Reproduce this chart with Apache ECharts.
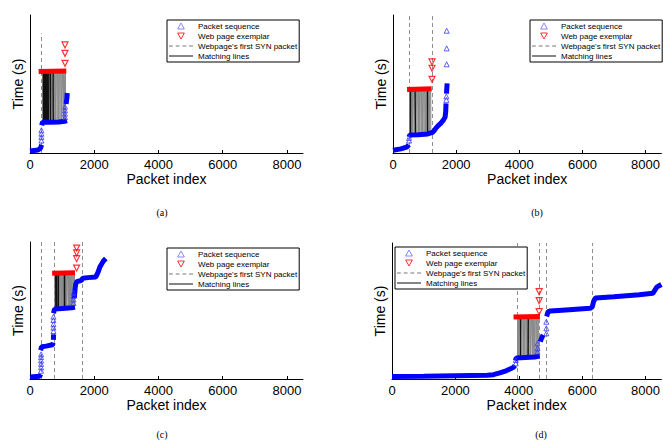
<!DOCTYPE html>
<html>
<head>
<meta charset="utf-8">
<script src="https://cdn.jsdelivr.net/npm/echarts@6/dist/echarts.min.js"></script>
<style>
  html, body { margin: 0; padding: 0; background: #fff; }
  #chart { width: 663px; height: 441px; }
</style>
</head>
<body>
<div id="chart"></div>
<script>
// ---- shared labels ----
const xTicks = [0, 2000, 4000, 6000, 8000];
const SEQ = 'Packet sequence';
const EX = 'Web page exemplar';
const SYN = "Webpage's first SYN packet";
const MATCH = 'Matching lines';
const captions = ['(a)', '(b)', '(c)', '(d)'];

// ---- (a) ----
const seqRunsA = [
  [[0, 0.15], [250, 0.22], [330, 0.35], [360, 0.6]],
  [[365, 2.0], [390, 2.25], [600, 2.22], [900, 2.25], [1080, 2.3], [1150, 2.35]],
  [[1125, 3.55], [1150, 4.0], [1160, 4.35]]
];
const seqSparseA = [[355, 0.9], [355, 1.15], [355, 1.4], [355, 1.65], [1090, 2.6], [1090, 2.85], [1090, 3.1], [1090, 3.35]];
const exRowA = [[270, 5.9], [1130, 5.95]];
const exSparseA = [[1090, 6.5], [1090, 7.22], [1090, 7.83]];
const synA = [364];
const synTopA = 8.67;
const matchTimesA = [5.9, 2.25];
const matchA = [[390,400],[410,405],[430,445],[452,440],[470,482],[495,488],[515,530],[540,528],[560,575],[585,572],[605,620],[630,618],[650,668],[675,660],[695,712],[720,705],[740,758],[765,750],[785,800],[810,795],[830,848],[855,840],[875,892],[900,885],[920,938],[945,930],[965,982],[990,975],[1010,1028],[1035,1020],[1055,1070],[1080,1066],[1100,1105]];
const matchDarkA = [[400,402],[425,428],[448,452],[470,466],[500,498],[540,545],[585,580],[640,636],[720,725]];

// ---- (b) ----
const seqRunsB = [
  [[0, 0.2], [250, 0.3], [450, 0.45], [500, 0.6]],
  [[505, 1.15], [530, 1.3], [800, 1.32], [1100, 1.38], [1250, 1.5], [1300, 1.6], [1360, 1.8], [1440, 2.0], [1520, 2.17], [1600, 2.4], [1650, 2.6], [1670, 3.0], [1680, 3.6]],
  [[1695, 4.3], [1705, 4.7], [1715, 5.05]]
];
const seqSparseB = [[510, 0.9], [510, 1.1], [1690, 3.85], [1690, 4.1], [1700, 6.43], [1700, 7.58], [1700, 8.86]];
const exRowB = [[445, 4.6], [1225, 4.65]];
const exSparseB = [[1236, 5.34], [1236, 6.14], [1236, 6.6]];
const synB = [508, 1236];
const synTopB = 10;
const matchTimesB = [4.6, 1.35];
const matchB = [[525,530],[545,540],[565,580],[590,575],[610,625],[635,620],[655,672],[680,665],[700,718],[725,710],[745,762],[770,755],[790,808],[815,800],[835,852],[860,845],[880,898],[905,890],[925,942],[950,935],[970,988],[995,980],[1015,1032],[1040,1025],[1060,1078],[1085,1070],[1105,1122],[1130,1115],[1150,1168],[1175,1160],[1195,1200]];
const matchDarkB = [[560,555],[700,712],[1090,1085]];

// ---- (c) ----
const seqRunsC = [
  [[0, 0.15], [300, 0.2], [340, 0.35]],
  [[330, 2.1], [360, 2.35], [500, 2.4], [700, 2.5], [725, 2.65]],
  [[728, 2.85], [735, 3.25]],
  [[735, 4.8], [760, 5.1], [1000, 5.15], [1300, 5.2], [1400, 5.25]],
  [[1380, 5.9], [1400, 6.5], [1420, 6.9], [1450, 7.1], [1600, 7.2], [1640, 7.35], [1800, 7.4], [2050, 7.45], [2120, 7.8], [2180, 8.2], [2280, 8.6], [2360, 8.8]]
];
const seqSparseC = [[345, 0.6], [345, 0.85], [345, 1.1], [345, 1.35], [345, 1.6], [345, 1.8], [730, 3.5], [730, 3.75], [730, 4.0], [730, 4.3], [730, 4.55], [1355, 5.55], [1355, 5.8], [1355, 6.05], [1355, 6.3]];
const exRowC = [[690, 7.72], [1400, 7.75]];
const exSparseC = [[1452, 8.1], [1452, 8.78], [1452, 9.2], [1452, 9.56]];
const synC = [364, 756, 1640];
const synTopC = 10;
const matchTimesC = [7.72, 5.15];
const matchC = [[770,775],[790,785],[808,822],[830,815],[848,862],[870,856],[888,902],[910,895],[928,942],[950,936],[968,982],[990,975],[1008,1022],[1030,1016],[1048,1062],[1070,1055],[1088,1102],[1110,1096],[1128,1142],[1150,1135],[1168,1182],[1190,1176],[1208,1222],[1230,1215],[1248,1262],[1270,1255],[1288,1302],[1310,1295],[1328,1342],[1350,1336],[1370,1380],[1385,1375]];
const matchDarkC = [[800,805],[815,812],[880,875],[890,895],[1060,1066],[1070,1068]];

// ---- (d) ----
const seqRunsD = [
  [[0, 0.18], [1000, 0.2], [2000, 0.24], [3000, 0.28], [3200, 0.32], [3400, 0.45], [3600, 0.6], [3835, 0.86], [3880, 1.0]],
  [[3890, 1.35], [3920, 1.54], [4200, 1.58], [4500, 1.62], [4660, 1.69]],
  [[4680, 2.75], [4720, 3.0], [4770, 3.24]],
  [[4880, 4.6], [4923, 4.95], [5000, 5.0], [5600, 5.1], [6250, 5.2], [6320, 5.3], [6360, 5.7], [6420, 5.95], [7000, 6.05], [7800, 6.2], [8230, 6.3], [8300, 6.55], [8350, 6.75], [8500, 6.95]]
];
const seqSparseD = [[3906, 1.15], [3906, 1.4], [4590, 2.0], [4590, 2.25], [4590, 2.62], [4870, 3.36], [4870, 3.73], [4870, 4.21]];
const exRowD = [[3835, 4.56], [4665, 4.6]];
const exSparseD = [[4643, 4.95], [4643, 5.76], [4643, 6.42]];
const synD = [3937, 4634, 4870, 6323];
const synTopD = 10;
const matchTimesD = [4.56, 1.6];
const matchD = [[3955,3960],[3975,3970],[3995,4012],[4020,4005],[4040,4058],[4065,4050],[4085,4102],[4110,4095],[4130,4148],[4155,4140],[4175,4192],[4200,4185],[4220,4238],[4245,4230],[4265,4282],[4290,4275],[4310,4328],[4335,4320],[4355,4372],[4380,4365],[4400,4418],[4425,4410],[4445,4462],[4470,4455],[4490,4508],[4515,4500],[4535,4552],[4560,4545],[4580,4598],[4605,4590],[4625,4635]];
const matchDarkD = [[4040,4045],[4300,4296]];

const panels = [
  { seqRuns: seqRunsA, seqSparse: seqSparseA, exRow: exRowA, exSparse: exSparseA, syn: synA, synTop: synTopA, matchTimes: matchTimesA, match: matchA, dark: matchDarkA },
  { seqRuns: seqRunsB, seqSparse: seqSparseB, exRow: exRowB, exSparse: exSparseB, syn: synB, synTop: synTopB, matchTimes: matchTimesB, match: matchB, dark: matchDarkB },
  { seqRuns: seqRunsC, seqSparse: seqSparseC, exRow: exRowC, exSparse: exSparseC, syn: synC, synTop: synTopC, matchTimes: matchTimesC, match: matchC, dark: matchDarkC },
  { seqRuns: seqRunsD, seqSparse: seqSparseD, exRow: exRowD, exSparse: exSparseD, syn: synD, synTop: synTopD, matchTimes: matchTimesD, match: matchD, dark: matchDarkD }
];

// ---- layout ----
const FONT = '"Liberation Sans", Arial, Helvetica, sans-serif';
const gridBoxes = [
  { left: 30, top: 15, width: 273, height: 138 },
  { left: 393, top: 15, width: 273, height: 138 },
  { left: 30, top: 242, width: 273, height: 137 },
  { left: 392, top: 243, width: 273, height: 136 }
];
const legendPos = [[167, 20], [530, 20], [167, 248], [395, 247]];
const captionPos = [[162, 212], [537, 212], [162, 434], [541, 434]];

const BLUE = '#0000ff';
const RED = '#ff0000';

const series = [];
panels.forEach((p, i) => {
  const ax = { xAxisIndex: i, yAxisIndex: i };
  series.push({
    type: 'lines', name: SYN, coordinateSystem: 'cartesian2d', ...ax, silent: true, z: 1,
    lineStyle: { color: '#8f8f8f', width: 1, type: [4, 3], opacity: 1 },
    data: p.syn.map(x => ({ coords: [[x, 0], [x, p.synTop]] }))
  });
  series.push({
    type: 'lines', name: MATCH, coordinateSystem: 'cartesian2d', ...ax, silent: true, z: 2,
    lineStyle: { color: '#000', width: 1, opacity: 1 },
    data: p.match.map(([e, k]) => ({ coords: [[e, p.matchTimes[0]], [k, p.matchTimes[1]]], lineStyle: { color: '#8a8a8a', width: 1 } }))
      .concat(p.dark.map(([e, k]) => ({ coords: [[e, p.matchTimes[0]], [k, p.matchTimes[1]]], lineStyle: { color: '#111', width: 1.3 } })))
  });
  p.seqRuns.forEach(run => series.push({
    type: 'line', ...ax, data: run, symbol: 'none', clip: false, silent: true, z: 3,
    lineStyle: { color: BLUE, width: 5 }
  }));
  series.push({
    type: 'scatter', name: SEQ, ...ax, data: p.seqSparse, symbol: 'triangle', symbolSize: 5, clip: false, z: 4,
    itemStyle: { color: 'rgba(0,0,0,0)', borderColor: '#3a3aff', borderWidth: 1 }
  });
  series.push({
    type: 'line', ...ax, data: p.exRow, symbol: 'none', clip: false, silent: true, z: 3,
    lineStyle: { color: RED, width: 5 }
  });
  series.push({
    type: 'scatter', name: EX, ...ax, data: p.exSparse, symbol: 'triangle', symbolRotate: 180, symbolSize: 6, clip: false, z: 4,
    itemStyle: { color: 'rgba(0,0,0,0)', borderColor: RED, borderWidth: 1.2 }
  });
});

const option = {
  animation: false,
  backgroundColor: '#fff',
  grid: gridBoxes.map(g => ({ ...g, containLabel: false })),
  xAxis: gridBoxes.map((g, i) => ({
    type: 'value', gridIndex: i, min: 0, max: 8500,
    name: 'Packet index', nameLocation: 'middle', nameGap: 18,
    nameTextStyle: { fontSize: 14, color: '#000', fontFamily: FONT },
    axisLine: { show: true, onZero: false, lineStyle: { color: '#000', width: 1 } },
    axisTick: { show: true, inside: true, length: 3, customValues: xTicks, lineStyle: { color: '#000' } },
    axisLabel: { fontSize: 13, color: '#000', fontFamily: FONT, margin: 5, customValues: xTicks, formatter: v => String(v) },
    splitLine: { show: false }
  })),
  yAxis: gridBoxes.map((g, i) => ({
    type: 'value', gridIndex: i, min: 0, max: 10,
    name: 'Time (s)', nameLocation: 'middle', nameGap: 5,
    nameTextStyle: { fontSize: 14, color: '#000', fontFamily: FONT },
    axisLine: { show: true, onZero: false, lineStyle: { color: '#000', width: 1 } },
    axisTick: { show: false }, axisLabel: { show: false }, splitLine: { show: false }
  })),
  legend: legendPos.map(([l, t]) => ({
    left: l, top: t, orient: 'vertical', selectedMode: false,
    itemWidth: 24, itemHeight: 6, itemGap: 0, padding: [1, 2, 1, 2],
    borderColor: '#000', borderWidth: 1, borderRadius: 0, backgroundColor: '#fff',
    textStyle: { fontSize: 8, lineHeight: 10, color: '#000', fontFamily: FONT },
    data: [
      { name: SEQ, icon: 'path://M5,0L10,9L0,9Z', itemStyle: { color: 'rgba(0,0,0,0)', borderColor: '#6a6aff', borderWidth: 1 } },
      { name: EX, icon: 'path://M0,0L10,0L5,9Z', itemStyle: { color: 'rgba(0,0,0,0)', borderColor: RED, borderWidth: 1 } },
      { name: SYN, icon: 'path://M0,0h4v1h-4z M7,0h4v1h-4z M14,0h4v1h-4z M21,0h4v1h-4z', itemStyle: { color: '#777', borderWidth: 0 } },
      { name: MATCH, icon: 'path://M0,0h25v1h-25z', itemStyle: { color: '#000', borderWidth: 0 } }
    ]
  })),
  graphic: captions.map((c, i) => ({
    type: 'text', silent: true,
    style: { text: c, x: captionPos[i][0], y: captionPos[i][1], textAlign: 'center', textVerticalAlign: 'middle',
             font: '10px "Liberation Serif", "Times New Roman", serif', fill: '#000' }
  })),
  series: series
};

const chart = echarts.init(document.getElementById('chart'), null, { renderer: 'svg' });
chart.setOption(option);
</script>
</body>
</html>
